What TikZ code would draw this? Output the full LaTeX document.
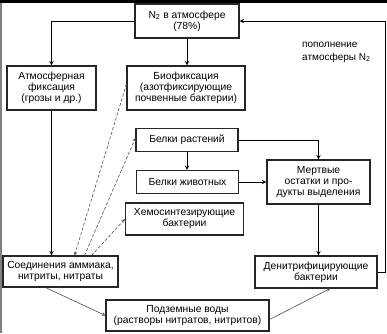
\documentclass[tikz,border=0pt]{standalone}
\usepackage{fontspec}
\setmainfont{Liberation Sans}
\usepackage{tikz}
\usetikzlibrary{positioning,arrows,calc}

\tikzset{
    box/.style={draw=black!85, line width=1.1pt, align=center, inner sep=1pt,
        font=\fontsize{10.3}{11}\selectfont},
    link/.style={line width=1pt, ->, >=stealth},
    dlink/.style={line width=0.6pt, black!70, densely dashed, ->, >=stealth},
    tlink/.style={line width=0.6pt, black!70, ->, >=stealth}
}

\begin{document}
\begin{tikzpicture}[x=1pt, y=-1pt]
    \useasboundingbox (0,0) rectangle (387,333);
    % frame of the scan
    \fill (0,0) rectangle (387,3);
    \draw[black!50, line width=1.2pt] (1,3) -- (1,333);

    % boxes
    \node[box, minimum width=104, minimum height=34] (n2) at (187,21)
        {N\textsubscript{2} в атмосфере\\(78\%)};
    \node[box, minimum width=89, minimum height=44] (atmfix) at (51.5,88)
        {Атмосферная\\фиксация\\(грозы и др.)};
    \node[box, minimum width=118, minimum height=44] (biofix) at (186,88)
        {Биофиксация\\(азотфиксирующие\\почвенные бактерии)};
    \node[box, minimum width=102, minimum height=23] (plants) at (187,140)
        {Белки растений};
    \node[box, minimum width=102, minimum height=23] (animals) at (187.5,182)
        {Белки животных};
    \node[box, minimum width=118, minimum height=32] (chemo) at (184.5,219)
        {Хемосинтезирующие\\бактерии};
    \node[box, minimum width=103, minimum height=44] (dead) at (318.5,182)
        {Мертвые\\остатки и про-\\дукты выделения};
    \node[box, minimum width=122, minimum height=32] (denitr) at (316,272)
        {Денитрифицирующие\\бактерии};
    \node[box, minimum width=115, minimum height=31] (ammon) at (60.5,271.5)
        {Соединения аммиака,\\нитриты, нитраты};
    \node[box, minimum width=163, minimum height=31] (ground) at (187.5,315.5)
        {Подземные воды\\(растворы нитратов, нитритов)};
    \node[align=left, anchor=north west, inner sep=0pt,
        font=\fontsize{10}{12.5}\selectfont] (refill) at (302,42)
        {пополнение\\атмосферы N\textsubscript{2}};

    % solid connectors
    \draw[link] (n2.west) -| (atmfix.north);
    \draw[link] (n2.south) -- (n2.south |- biofix.north);
    \draw[link] (atmfix.south) -- (atmfix.south |- ammon.north);
    \draw[link] (plants.south) -- (plants.south |- animals.north);
    \draw[link] (plants.east) -| (dead.north);
    \draw[link] (animals.east) -- (dead.west);
    \draw[link] (dead.south) -- (dead.south |- denitr.north);
    \draw[link] (denitr.east) -- ++(8,0) |- (n2.east);

    % dashed and thin connectors
    \draw[dlink] ([yshift=4]biofix.west) -- ([xshift=14]ammon.north);
    \draw[dlink] ([xshift=24]ammon.north) -- ([yshift=2]plants.west);
    \draw[dlink] ([xshift=31]ammon.north) -- (chemo.west);
    \draw[tlink] ([xshift=-15]ammon.south) -- (ground.west);
    \draw[tlink] ([yshift=-4]ground.east) -- ([xshift=14]denitr.south);
\end{tikzpicture}
\end{document}
